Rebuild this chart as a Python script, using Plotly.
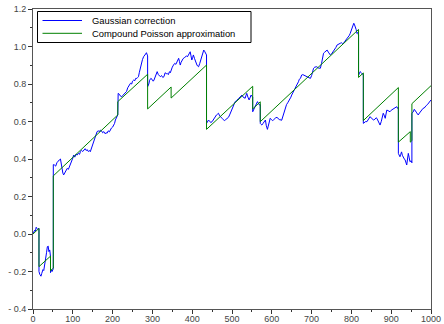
import plotly.graph_objects as go

# ---- Compound Poisson approximation: piecewise-linear drift with jumps ----
cp_start = 0.0
cp_end = 0.791
jump_t = [15, 44, 51, 213, 288, 347, 436, 552, 571, 818, 830, 918, 948, 952]
level_before = [0.03, -0.118, -0.182, 0.635, 0.852, 0.784, 0.901, 0.788, 0.705,
                1.091, 0.859, 0.781, 0.546, 0.498]
level_after = [-0.174, -0.196, 0.31, 0.706, 0.667, 0.725, 0.558, 0.667, 0.599,
               0.835, 0.605, 0.49, 0.49, 0.695]

# ---- Gaussian correction path ----
gauss_t = [
    0, 2, 4, 6, 8, 10, 12, 15, 15, 17, 20, 22, 25, 27, 30, 32, 34, 36, 38, 40, 42, 44,
    44, 46, 48, 51, 51, 54, 57, 60, 63, 66, 69, 71, 73, 75, 77, 80, 83, 86, 89, 92, 95,
    98, 100, 102, 105, 108, 111, 114, 117, 119, 122, 125, 128, 131, 134, 136, 139, 142,
    144, 147, 150, 153, 156, 159, 161, 164, 167, 169, 172, 175, 178, 181, 184, 186, 189,
    192, 194, 197, 200, 203, 205, 207, 210, 213, 214, 217, 220, 223, 226, 229, 232, 235,
    238, 241, 245, 248, 250, 253, 256, 258, 261, 263, 265, 267, 270, 272, 275, 278, 280,
    283, 285, 287, 288, 288, 291, 293, 296, 299, 302, 304, 307, 310, 312, 315, 318, 320,
    323, 326, 329, 332, 335, 337, 340, 343, 345, 347, 350, 353, 356, 359, 362, 364, 366,
    368, 370, 372, 374, 377, 380, 383, 386, 388, 391, 393, 395, 397, 399, 401, 403, 406,
    409, 412, 414, 416, 419, 421, 423, 426, 429, 431, 433, 436, 436, 438, 441, 444, 447,
    450, 453, 456, 458, 461, 464, 466, 469, 472, 475, 478, 481, 483, 486, 489, 491, 494,
    497, 500, 503, 506, 508, 511, 514, 517, 520, 522, 525, 528, 531, 533, 535, 537, 540,
    543, 545, 548, 550, 552, 552, 555, 558, 561, 564, 567, 569, 571, 571, 573, 575, 578,
    581, 584, 586, 589, 591, 594, 596, 599, 602, 604, 607, 610, 613, 616, 619, 621, 623,
    625, 628, 631, 634, 637, 640, 642, 645, 648, 650, 653, 656, 659, 661, 664, 667, 669,
    672, 675, 678, 680, 684, 688, 692, 697, 700, 703, 705, 708, 713, 717, 722, 725, 728,
    730, 733, 736, 739, 742, 745, 747, 750, 753, 755, 758, 761, 764, 767, 770, 772, 775,
    778, 780, 783, 786, 789, 792, 795, 797, 800, 803, 806, 808, 810, 812, 814, 816, 818,
    818, 820, 822, 825, 828, 830, 830, 833, 836, 839, 842, 845, 847, 850, 853, 856, 859,
    862, 864, 867, 870, 872, 875, 878, 880, 883, 885, 887, 889, 892, 895, 897, 900, 903,
    906, 909, 912, 914, 916, 918, 918, 920, 922, 924, 926, 928, 931, 933, 935, 937, 939,
    941, 943, 945, 947, 950, 952, 952, 955, 958, 960, 963, 966, 968, 971, 974, 977, 980,
    983, 985, 988, 991, 993, 996, 1000,
]
gauss_y = [
    0.0, 0.01, 0.02, 0.015, 0.036, 0.03, 0.025, 0.03, -0.2, -0.215, -0.225, -0.21, -0.19,
    -0.195, -0.16, -0.14, -0.1, -0.068, -0.064, -0.094, -0.085, -0.12,
    -0.206, -0.19, -0.2, -0.185, 0.37, 0.368, 0.362, 0.38, 0.39, 0.395, 0.40, 0.37, 0.332,
    0.325, 0.315, 0.33, 0.34, 0.35, 0.345, 0.362, 0.368,
    0.395, 0.405, 0.421, 0.41, 0.425, 0.421, 0.43, 0.425, 0.439, 0.445, 0.44, 0.447, 0.455,
    0.445, 0.45, 0.44, 0.445,
    0.439, 0.46, 0.48, 0.501, 0.52, 0.535, 0.546, 0.55, 0.545, 0.554, 0.55, 0.54, 0.546,
    0.535, 0.54, 0.537, 0.55,
    0.545, 0.554, 0.565, 0.57, 0.581, 0.59, 0.608, 0.62, 0.635, 0.75, 0.745, 0.735, 0.732,
    0.74, 0.745, 0.75, 0.76,
    0.78, 0.79, 0.804, 0.8, 0.815, 0.821, 0.818, 0.83, 0.83, 0.835, 0.839, 0.86, 0.892,
    0.91, 0.93, 0.946, 0.95,
    0.96, 0.967, 0.955, 0.95, 0.786, 0.80, 0.82, 0.83, 0.825, 0.815, 0.821, 0.84, 0.855,
    0.866, 0.85, 0.845, 0.839,
    0.845, 0.835, 0.839, 0.86, 0.855, 0.857, 0.85, 0.866, 0.86, 0.875, 0.89, 0.901, 0.91,
    0.905, 0.919, 0.93, 0.937,
    0.92, 0.901, 0.915, 0.928, 0.935, 0.94, 0.946, 0.95, 0.945, 0.955, 0.965, 0.972, 0.95,
    0.928, 0.94, 0.955, 0.935,
    0.915, 0.901, 0.895, 0.892, 0.91, 0.925, 0.937, 0.96, 0.981, 0.975, 0.964, 0.955, 0.59,
    0.6, 0.608, 0.6, 0.595,
    0.599, 0.61, 0.62, 0.626, 0.635, 0.64, 0.644, 0.63, 0.62, 0.617, 0.61, 0.605, 0.608,
    0.615, 0.62, 0.622, 0.635,
    0.65, 0.661, 0.68, 0.695, 0.706, 0.71, 0.72, 0.724, 0.73, 0.735, 0.741, 0.73, 0.728,
    0.724, 0.738, 0.75, 0.73,
    0.715, 0.725, 0.741, 0.735, 0.73, 0.652, 0.665, 0.68, 0.69, 0.706, 0.695, 0.688, 0.69,
    0.59, 0.585, 0.581, 0.59,
    0.6, 0.608, 0.58, 0.558, 0.575, 0.6, 0.617, 0.61, 0.605, 0.608, 0.615, 0.62, 0.622,
    0.615, 0.61, 0.612, 0.605,
    0.608, 0.63, 0.655, 0.679, 0.69, 0.7, 0.706, 0.715, 0.73, 0.741, 0.755, 0.77, 0.786,
    0.79, 0.8, 0.812, 0.825,
    0.83, 0.848, 0.85, 0.848, 0.845, 0.839, 0.835, 0.83, 0.845, 0.87, 0.884, 0.89, 0.892,
    0.885, 0.884, 0.91, 0.94,
    0.964, 0.97, 0.975, 0.981, 0.97, 0.96, 0.955, 0.96, 0.97, 0.972, 0.98, 0.995, 1.008,
    1.01, 1.015, 1.017, 1.02,
    1.015, 1.017, 1.025, 1.035, 1.044, 1.05, 1.06, 1.07, 1.085, 1.1, 1.124, 1.115, 1.106,
    1.09, 1.07, 1.075, 1.06,
    0.848, 0.855, 0.866, 0.86, 0.85, 0.848, 0.59, 0.595, 0.6, 0.599, 0.61, 0.62, 0.626,
    0.618, 0.61, 0.608, 0.612,
    0.62, 0.617, 0.6, 0.59, 0.581, 0.6, 0.63, 0.644, 0.63, 0.617, 0.64, 0.661, 0.658, 0.655,
    0.652, 0.66, 0.665,
    0.67, 0.672, 0.676, 0.679, 0.67, 0.675, 0.43, 0.42, 0.412, 0.425, 0.438, 0.42, 0.404,
    0.4, 0.395, 0.38, 0.368,
    0.4, 0.43, 0.41, 0.386, 0.39, 0.38, 0.644, 0.65, 0.665, 0.661, 0.65, 0.64, 0.635, 0.645,
    0.655, 0.661, 0.67,
    0.672, 0.679, 0.685, 0.69, 0.697, 0.705, 0.715,
]

x_ticks = [0, 100, 200, 300, 400, 500, 600, 700, 800, 900, 1000]
y_ticks = [-0.4, -0.2, 0.0, 0.2, 0.4, 0.6, 0.8, 1.0, 1.2]
y_tick_text = ["- 0.4", "- 0.2", "0.0", "0.2", "0.4", "0.6", "0.8", "1.0", "1.2"]

series_names = ["Gaussian correction", "Compound Poisson approximation"]
BLUE = "#0000ff"
GREEN = "#008000"

# Build the step-with-drift path of the compound Poisson process
cp_t = [0]
cp_y = [cp_start]
for t, b, a in zip(jump_t, level_before, level_after):
    cp_t += [t, t]
    cp_y += [b, a]
cp_t.append(1000)
cp_y.append(cp_end)

fig = go.Figure()
fig.add_trace(go.Scatter(x=gauss_t, y=gauss_y, mode="lines",
                         line=dict(color=BLUE, width=1), name=series_names[0],
                         showlegend=False))
fig.add_trace(go.Scatter(x=cp_t, y=cp_y, mode="lines",
                         line=dict(color=GREEN, width=1), name=series_names[1],
                         showlegend=False))

W, H = 444, 324
ML, MR, MT, MB = 33, 13, 9, 15
pw, ph = W - ML - MR, H - MT - MB


def px_x(p):
    return (p - ML) / pw


def px_y(p):
    return (H - MB - p) / ph


# Legend box drawn in paper coordinates
fig.add_shape(type="rect", xref="paper", yref="paper",
              x0=px_x(37.5), x1=px_x(251), y0=px_y(42.5), y1=px_y(11.5),
              line=dict(color="#000000", width=1), fillcolor="white")
for i, (name, col) in enumerate(zip(series_names, [BLUE, GREEN])):
    yy = px_y(20.5 + i * 12.8)
    fig.add_shape(type="line", xref="paper", yref="paper",
                  x0=px_x(42.5), x1=px_x(82), y0=yy, y1=yy,
                  line=dict(color=col, width=1))
    fig.add_annotation(xref="paper", yref="paper", x=px_x(90), y=yy,
                       text=name, showarrow=False, xanchor="left", yanchor="middle",
                       font=dict(family="Liberation Sans, Arial", size=9.4, color="#000000"))

axis_common = dict(showline=True, linecolor="#555555", linewidth=1, mirror=True,
                   ticks="outside", tickcolor="#333333", ticklen=4, tickwidth=1,
                   showgrid=False, zeroline=False, automargin=False,
                   tickfont=dict(family="Liberation Sans, Arial", size=9, color="#444444"))

fig.update_layout(
    width=W, height=H,
    margin=dict(l=ML, r=MR, t=MT, b=MB),
    paper_bgcolor="white", plot_bgcolor="white",
    xaxis=dict(range=[0, 1000], tickvals=x_ticks, ticklabelstandoff=-3,
               minor=dict(dtick=50, ticks="outside", ticklen=2, tickcolor="#333333"),
               **axis_common),
    yaxis=dict(range=[-0.4, 1.2], tickvals=y_ticks, ticktext=y_tick_text,
               minor=dict(dtick=0.1, ticks="outside", ticklen=2, tickcolor="#333333"),
               **axis_common),
)

fig.write_html("out.html")
